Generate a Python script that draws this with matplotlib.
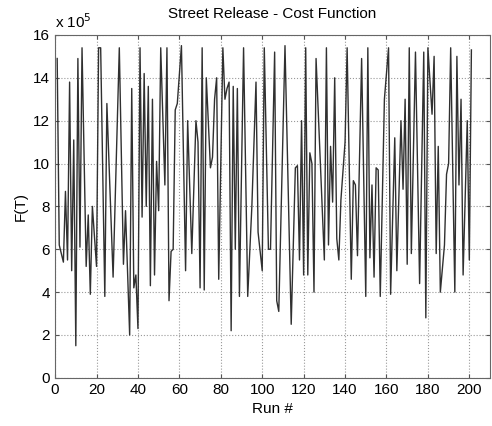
import matplotlib
matplotlib.use("Agg")
import matplotlib.pyplot as plt

plt.rcParams['font.family'] = ['Liberation Sans', 'DejaVu Sans']

runs = [1, 2, 4, 5, 6, 7, 8, 9, 10, 11, 12, 13, 15, 16, 17, 18, 20, 21, 22, 24,
        25, 28, 31, 33, 34, 36, 37, 38, 39, 40, 41, 42, 43, 44, 45, 46, 47, 48, 49, 50,
        51, 53, 54, 55, 56, 57, 58, 59, 61, 63, 64, 66, 68, 69, 70, 71, 72, 73, 75, 76,
        77, 78, 79, 81, 82, 83, 84, 85, 86, 87, 88, 89, 91, 93, 95, 97, 98, 100, 101, 103,
        104, 106, 107, 108, 111, 114, 116, 117, 118, 119, 120, 121, 122, 123, 124, 125, 126, 130, 131, 132,
        133, 134, 135, 136, 137, 138, 140, 141, 143, 144, 145, 146, 148, 150, 151, 152, 153, 154, 155, 156,
        157, 159, 161, 162, 164, 165, 167, 168, 169, 170, 171, 172, 174, 176, 178, 179, 180, 182, 183, 184,
        185, 186, 188, 189, 190, 191, 193, 194, 195, 196, 197, 199, 200, 201]
cost = [14.9, 6.2, 5.4, 8.7, 5.5, 13.8, 5.0, 11.1, 1.5, 14.9, 6.1, 15.4, 5.2, 7.6, 3.9, 8.0, 5.2, 15.4, 15.4, 3.8,
        12.8, 4.7, 15.4, 5.3, 7.8, 2.0, 13.5, 4.2, 4.8, 2.3, 15.4, 7.5, 14.2, 8.0, 13.6, 4.3, 13.0, 4.8, 10.1, 7.8,
        15.4, 9.0, 15.4, 3.6, 5.9, 6.0, 12.5, 12.8, 15.5, 5.0, 12.0, 5.8, 12.0, 11.0, 4.2, 15.4, 4.1, 14.0, 9.8, 10.3,
        13.0, 14.0, 4.6, 15.4, 13.0, 13.5, 13.8, 2.2, 13.6, 6.0, 13.5, 3.8, 15.4, 3.8, 8.0, 13.8, 6.8, 5.0, 15.4, 6.0,
        6.0, 15.2, 3.6, 3.1, 15.5, 2.5, 9.8, 9.9, 5.5, 12.0, 4.8, 15.4, 4.8, 10.5, 10.0, 4.0, 14.9, 5.5, 15.4, 6.2,
        10.8, 8.2, 14.0, 6.5, 5.5, 8.3, 11.0, 15.4, 4.6, 9.2, 9.0, 5.7, 14.9, 3.8, 15.4, 5.6, 9.0, 4.7, 9.8, 9.7,
        3.8, 13.0, 15.4, 3.9, 11.2, 5.0, 12.0, 8.8, 13.0, 5.3, 15.4, 5.8, 15.2, 4.4, 15.2, 2.8, 15.4, 12.3, 15.0, 5.8,
        10.8, 4.0, 6.2, 9.5, 10.0, 15.4, 4.0, 15.0, 9.0, 13.0, 4.8, 12.0, 5.5, 15.3]

xticks = list(range(0, 201, 20))
yticks = list(range(0, 17, 2))

fig = plt.figure(figsize=(4.92, 4.26), dpi=100)
ax = fig.add_axes([0.112, 0.113, 0.884, 0.805])

ax.plot(runs, cost, '-', color='#303030', linewidth=1.0)

ax.set_xlim(0, 210)
ax.set_ylim(0, 16)
ax.set_xticks(xticks)
ax.set_yticks(yticks)
ax.grid(True, linestyle=':', color='#999999', linewidth=0.8)
ax.tick_params(direction='in', top=True, right=True, labelsize=11, length=3, color='#555555')
for s in ax.spines.values():
    s.set_color('#666666')

ax.set_title('Street Release - Cost Function', fontsize=11, pad=12)
ax.set_xlabel('Run #', fontsize=11)
ax.set_ylabel('F(T)', fontsize=11)
ax.text(0.0, 1.012, r'x 10$^5$', transform=ax.transAxes, fontsize=11, ha='left', va='bottom')

fig.savefig('out.png', dpi=100)
